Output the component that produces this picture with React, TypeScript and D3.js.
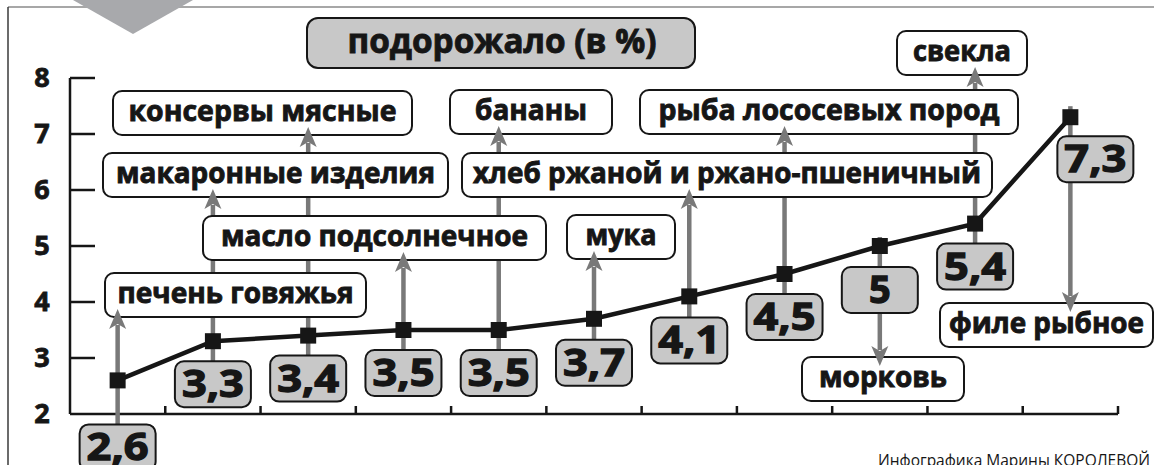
import React from 'react';
import * as d3 from 'd3';

// what got more expensive, % (in point order)
const values = [2.6, 3.3, 3.4, 3.5, 3.5, 3.7, 4.1, 4.5, 5, 5.4, 7.3];
const products = [
  'печень говяжья',
  'макаронные изделия',
  'консервы мясные',
  'масло подсолнечное',
  'бананы',
  'мука',
  'хлеб ржаной и ржано-пшеничный',
  'рыба лососевых пород',
  'морковь',
  'свекла',
  'филе рыбное',
];
const directions = ['up', 'up', 'up', 'up', 'up', 'up', 'up', 'up', 'down', 'up', 'down'];
const yTickValues = [2, 3, 4, 5, 6, 7, 8];
const title = 'подорожало (в %)';
const credit = 'Инфографика Марины КОРОЛЕВОЙ';

// callout layout, px
const labelBoxes = [
  { x: 105, y: 273, w: 261, tw: 236 },
  { x: 103, y: 153, w: 345, tw: 319 },
  { x: 113, y: 91, w: 299, tw: 268 },
  { x: 203, y: 216, w: 343, tw: 307 },
  { x: 450, y: 90, w: 162, tw: 112 },
  { x: 567, y: 215, w: 108, tw: 71 },
  { x: 462, y: 153, w: 530, tw: 508 },
  { x: 640, y: 90, w: 378, tw: 341 },
  { x: 802, y: 357, w: 162, tw: 128 },
  { x: 897, y: 31, w: 130, tw: 98 },
  { x: 940, y: 303, w: 213, tw: 195 },
];
const valueBoxShift = [
  { dx: 0, dy: 44 }, { dx: 0, dy: 20 }, { dx: 0, dy: 20 }, { dx: 0, dy: 20 },
  { dx: 0, dy: 20 }, { dx: 0, dy: 21 }, { dx: 0, dy: 21 }, { dx: 0, dy: 20 },
  { dx: 0, dy: 21 }, { dx: 0, dy: 20 }, { dx: 25, dy: 19 },
];

const FONT = '"Open Sans", "DejaVu Sans", sans-serif';
const GRAY = '#797979';
const BOX = '#c8c8c8';
const INK = '#161616';

const width = 1154;
const height = 465;
const margin = { t: 78, b: 51, l: 70, r: 36 };

export default function App() {
  const x = d3.scaleBand<number>()
    .domain(values.map((d, i) => i))
    .range([margin.l, width - margin.r])
    .padding(0);
  const y = d3.scaleLinear()
    .domain([2, 8])
    .range([height - margin.b, margin.t]);

  const bw = x.bandwidth();
  const px = (i: number) => (x(i) as number) + bw / 2;
  const axisY = y(2);

  const vbW = 76, vbH = 46;
  const labelH = 44;
  const headLen = 20, headHalf = 8.5;

  const line = d3.line<number>()
    .x((d, i) => px(i))
    .y(d => y(d));

  const fmt = (v: number) => String(v).replace('.', ',');

  // tips of the arrows
  const arrows = values.map((v, i) => {
    const b = labelBoxes[i];
    const s = valueBoxShift[i];
    const boxTop = y(v) + s.dy;
    if (directions[i] === 'up') {
      const tip = b.y + labelH - 8;
      return { x: px(i), from: boxTop, to: tip + headLen - 4, tip, dir: 'up', boxTop };
    }
    const tip = b.y + 9;
    return { x: px(i), from: boxTop + vbH, to: tip - headLen + 4, tip, dir: 'down', boxTop };
  });

  const head = (a: any) => a.dir === 'up'
    ? `M${a.x},${a.tip} L${a.x - headHalf},${a.tip + headLen} L${a.x},${a.tip + headLen - 5} L${a.x + headHalf},${a.tip + headLen} Z`
    : `M${a.x},${a.tip} L${a.x - headHalf},${a.tip - headLen} L${a.x},${a.tip - headLen + 5} L${a.x + headHalf},${a.tip - headLen} Z`;

  return (
    <svg width={width} height={height} style={{ position: 'absolute', left: 0, top: 0, background: '#fff' }}
         fontFamily={FONT}>
      {/* frame */}
      <line x1={8} x2={width} y1={7} y2={7} stroke="#8a8a8a" strokeWidth={1.5}/>
      <line x1={8} x2={8} y1={7} y2={height} stroke="#3a3a3a" strokeWidth={1.5}/>
      <polygon points="73,0 193,0 133,34" fill="#a8a9ac"/>

      {/* title */}
      <rect x={307} y={18} width={388} height={50} rx={11} fill={BOX} stroke={INK} strokeWidth={2}/>
      <text x={502} y={53} textAnchor="middle" fontSize={34} fontWeight={700} fill={INK}
            stroke={INK} strokeWidth={0.9}
            textLength={309} lengthAdjust="spacingAndGlyphs">{title}</text>

      {/* axes */}
      <g stroke={INK} strokeWidth={2.5} fill="none">
        <line x1={margin.l} x2={margin.l} y1={y(8)} y2={axisY}/>
        <line x1={margin.l} x2={width - margin.r} y1={axisY} y2={axisY}/>
        {yTickValues.filter(d => d > 2).map(d =>
          <line key={d} x1={margin.l} x2={margin.l + 25} y1={y(d)} y2={y(d)}/>)}
        {values.map((d, i) =>
          <line key={i} x1={(x(i) as number) + bw} x2={(x(i) as number) + bw} y1={axisY} y2={axisY - 8}/>)}
      </g>
      {yTickValues.map(d =>
        <text key={d} x={42} y={y(d) + 9} textAnchor="middle" fontSize={27} fontWeight={700} fill={INK}
              stroke={INK} strokeWidth={0.8}>{d}</text>)}

      {/* gray stems and arrow shafts */}
      <g stroke={GRAY} strokeWidth={4.5}>
        {arrows.map((a, i) =>
          <line key={i} x1={a.x} x2={a.x} y1={a.from} y2={a.to}/>)}
        {arrows.filter(a => a.dir === 'down').map((a, i) =>
          <line key={'s' + i} x1={a.x} x2={a.x} y1={a.boxTop} y2={a.boxTop - 30}/>)}
      </g>

      {/* product labels */}
      {products.map((p, i) => {
        const b = labelBoxes[i];
        return (
          <g key={p}>
            <rect x={b.x} y={b.y} width={b.w} height={labelH} rx={9} fill="#fff" stroke={INK} strokeWidth={2}/>
            <text x={b.x + b.w / 2} y={b.y + labelH / 2 + 8} textAnchor="middle" fontSize={29} fontWeight={700}
                  fill={INK} stroke={INK} strokeWidth={0.9}
                  textLength={b.tw} lengthAdjust="spacingAndGlyphs">{p}</text>
          </g>
        );
      })}

      {/* arrow heads */}
      <g fill={GRAY}>
        {arrows.map((a, i) => <path key={i} d={head(a)}/>)}
      </g>

      {/* value boxes */}
      {values.map((v, i) => {
        const s = valueBoxShift[i];
        const cx = px(i) + s.dx;
        const top = y(v) + s.dy;
        const label = fmt(v);
        return (
          <g key={i}>
            <rect x={cx - vbW / 2} y={top} width={vbW} height={vbH} rx={9} fill={BOX} stroke={INK} strokeWidth={2}/>
            <text x={cx} y={top + vbH / 2 + 13} textAnchor="middle" fontSize={38} fontWeight={700} fill={INK}
                  stroke={INK} strokeWidth={1.3}
                  {...(label.length > 1 ? { textLength: 62, lengthAdjust: 'spacingAndGlyphs' } : {})}>{label}</text>
          </g>
        );
      })}

      {/* line and markers */}
      <path d={line(values) as string} fill="none" stroke={INK} strokeWidth={4.5} strokeLinejoin="miter"/>
      {values.map((v, i) =>
        <rect key={i} x={px(i) - 8} y={y(v) - 8} width={16} height={16} fill={INK}/>)}

      <text x={1150} y={466} textAnchor="end" fontSize={17} fill={INK}
            textLength={272} lengthAdjust="spacingAndGlyphs">{credit}</text>
    </svg>
  );
}
